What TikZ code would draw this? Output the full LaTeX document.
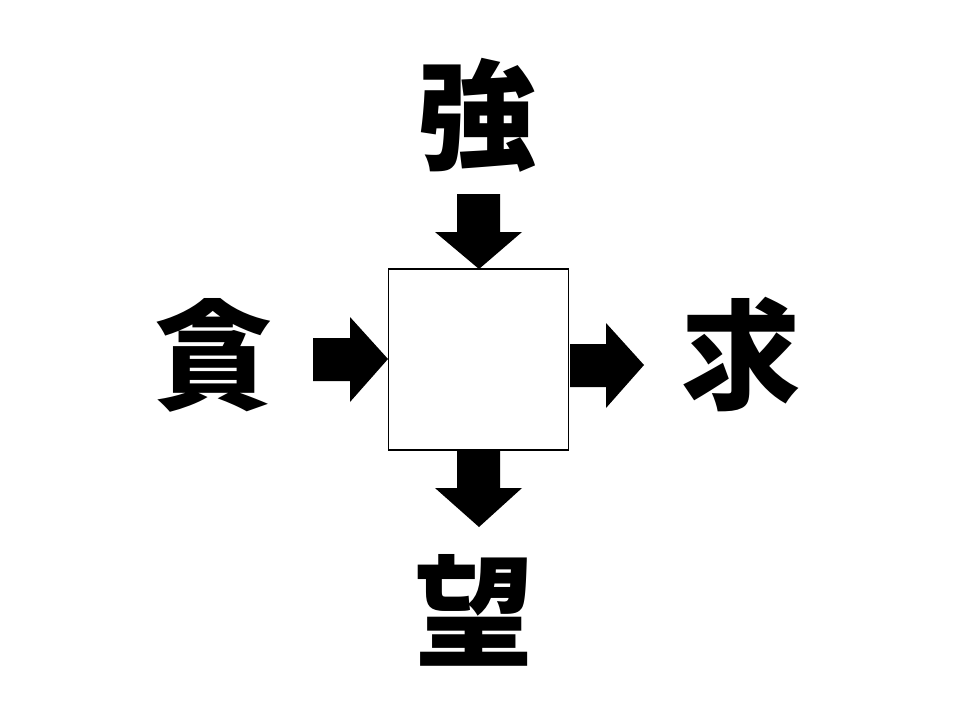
\documentclass[tikz,border=0pt]{standalone}
\usepackage{fontspec}
\newfontfamily\cjk{Noto Sans CJK JP}
\begin{document}
\begin{tikzpicture}[x=0.02cm,y=-0.02cm,
  kanji/.style={font=\cjk\bfseries\fontsize{68}{68}\selectfont,inner sep=0pt},
  fat/.style={fill=black,draw=none}]
\useasboundingbox (0,0) rectangle (960,720);
\node[draw=black,line width=0.8pt,minimum width=3.6cm,minimum height=3.62cm,inner sep=0pt] (box) at (478.5,359.5) {};
\node[kanji] (top) at (477,115) {強};
\node[kanji] (left) at (213,355) {貪};
\node[kanji] (right) at (741,355) {求};
\node[kanji] (bottom) at (474,610) {望};
% top arrow
\fill[fat] (457,194) -- (500,194) -- (500,232) -- (522,232) -- (479,269) -- (435,232) -- (457,232) -- cycle;
% bottom arrow
\fill[fat] (457,451) -- (500,451) -- (500,488) -- (522,488) -- (479,527) -- (435,488) -- (457,488) -- cycle;
% left arrow
\fill[fat] (313,338) -- (350,338) -- (350,317) -- (388,359) -- (350,402) -- (350,381) -- (313,381) -- cycle;
% right arrow
\fill[fat] (570,344) -- (606,344) -- (606,323) -- (644,365) -- (606,408) -- (606,387) -- (570,387) -- cycle;
\end{tikzpicture}
\end{document}
